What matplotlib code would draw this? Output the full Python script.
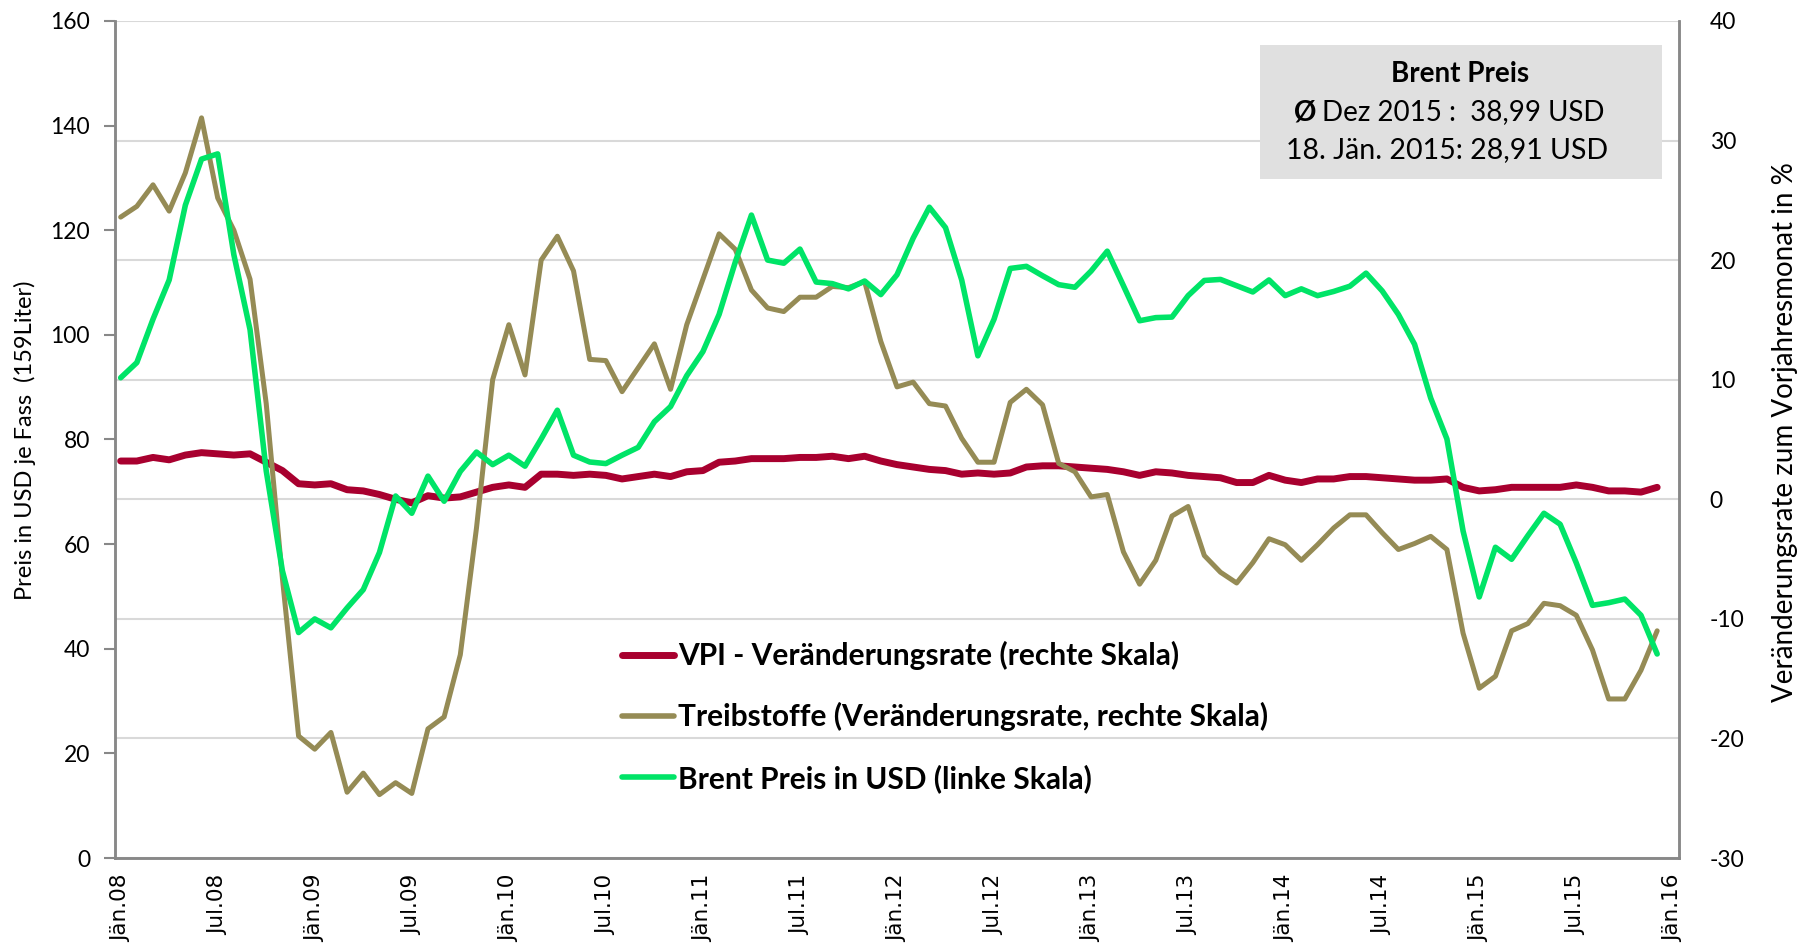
import matplotlib
matplotlib.use("Agg")
import matplotlib.pyplot as plt
from matplotlib.lines import Line2D
from matplotlib.patches import Rectangle

plt.rcParams['font.family'] = ['Lato', 'DejaVu Sans']
plt.rcParams['axes.unicode_minus'] = False

# monthly values Jän.08 .. Dez.15
brent = [91.8, 94.7, 103.0, 110.5, 124.8, 133.6, 134.6, 115.3, 101.0, 74.0, 54.9, 43.1,
         45.7, 44.0, 47.8, 51.3, 58.4, 69.2, 65.9, 73.0, 68.2, 73.9, 77.6, 75.2,
         77.0, 74.9, 80.1, 85.6, 77.0, 75.7, 75.4, 77.0, 78.5, 83.4, 86.3, 92.2,
         96.8, 103.9, 113.9, 122.9, 114.3, 113.7, 116.4, 110.1, 109.8, 108.8, 110.3, 107.7,
         111.5, 118.5, 124.4, 120.5, 110.5, 96.0, 103.0, 112.7, 113.1, 111.3, 109.6, 109.1,
         112.2, 116.0, 109.4, 102.7, 103.3, 103.4, 107.5, 110.4, 110.6, 109.4, 108.2, 110.5,
         107.5, 108.8, 107.5, 108.3, 109.3, 111.8, 108.4, 103.9, 98.2, 87.9, 80.1, 62.5,
         49.9, 59.4, 57.1, 61.6, 65.9, 63.8, 56.4, 48.3, 48.8, 49.5, 46.4, 39.0]

treibstoffe = [23.6, 24.5, 26.3, 24.1, 27.3, 31.9, 25.2, 22.5, 18.4, 8.0, -6.6, -19.8,
               -20.9, -19.5, -24.5, -22.9, -24.7, -23.7, -24.6, -19.2, -18.2, -13.0, -2.4, 10.0,
               14.6, 10.4, 20.0, 22.0, 19.1, 11.7, 11.6, 9.0, 11.0, 13.0, 9.2, 14.6,
               18.4, 22.2, 20.9, 17.5, 16.0, 15.7, 16.9, 16.9, 17.8, 17.7, 18.2, 13.2,
               9.4, 9.8, 8.0, 7.8, 5.1, 3.1, 3.1, 8.1, 9.2, 7.9, 3.0, 2.3,
               0.2, 0.4, -4.4, -7.1, -5.1, -1.4, -0.6, -4.7, -6.1, -7.0, -5.3, -3.3,
               -3.8, -5.1, -3.8, -2.4, -1.3, -1.3, -2.8, -4.2, -3.7, -3.1, -4.2, -11.2,
               -15.8, -14.8, -11.0, -10.4, -8.7, -8.9, -9.7, -12.6, -16.7, -16.7, -14.3, -11.0]

vpi = [3.2, 3.2, 3.5, 3.3, 3.7, 3.9, 3.8, 3.7, 3.8, 3.1, 2.4, 1.3,
       1.2, 1.3, 0.8, 0.7, 0.4, 0.0, -0.3, 0.3, 0.1, 0.2, 0.6, 1.0,
       1.2, 1.0, 2.1, 2.1, 2.0, 2.1, 2.0, 1.7, 1.9, 2.1, 1.9, 2.3,
       2.4, 3.1, 3.2, 3.4, 3.4, 3.4, 3.5, 3.5, 3.6, 3.4, 3.6, 3.2,
       2.9, 2.7, 2.5, 2.4, 2.1, 2.2, 2.1, 2.2, 2.7, 2.8, 2.8, 2.7,
       2.6, 2.5, 2.3, 2.0, 2.3, 2.2, 2.0, 1.9, 1.8, 1.4, 1.4, 2.0,
       1.6, 1.4, 1.7, 1.7, 1.9, 1.9, 1.8, 1.7, 1.6, 1.6, 1.7, 1.0,
       0.7, 0.8, 1.0, 1.0, 1.0, 1.0, 1.2, 1.0, 0.7, 0.7, 0.6, 1.0]

tick_labels = ["Jän.08", "Jul.08", "Jän.09", "Jul.09", "Jän.10", "Jul.10", "Jän.11",
               "Jul.11", "Jän.12", "Jul.12", "Jän.13", "Jul.13", "Jän.14", "Jul.14",
               "Jän.15", "Jul.15", "Jän.16"]

RED = '#A8002F'
TAN = '#958B55'
GREEN = '#00E467'
AXIS_GREY = '#888888'

W, H = 1807, 946
fig = plt.figure(figsize=(W / 100, H / 100), dpi=100)
ax2 = fig.add_axes([115 / W, 1 - 858 / H, (1679 - 115) / W, (858 - 21) / H])
ax1 = ax2.twinx()
ax1.set_zorder(ax2.get_zorder() + 1)
ax1.patch.set_visible(False)

x = list(range(len(brent)))
l_vpi, = ax2.plot(x, vpi, color=RED, lw=5.0, solid_capstyle='round', solid_joinstyle='round')
l_tr, = ax2.plot(x, treibstoffe, color=TAN, lw=3.6, solid_capstyle='round', solid_joinstyle='round')
l_br, = ax1.plot(x, brent, color=GREEN, lw=4.0, solid_capstyle='round', solid_joinstyle='round')

ax2.set_xlim(-0.35, 96.35)
ax2.set_ylim(-30, 40)
ax1.set_ylim(0, 160)

# ax2 (zorder below) carries the grid and the right scale
ax2.yaxis.tick_right()
ax1.yaxis.tick_left()
ax2.set_yticks(range(-30, 41, 10))
ax1.set_yticks(range(0, 161, 20))
ax2.grid(axis='y', color='#D9D9D9', lw=1.5)
ax2.set_axisbelow(True)

ax2.set_xticks(range(0, 97, 6))
ax2.set_xticklabels(tick_labels, rotation=90, fontfamily='DejaVu Sans', fontsize=15.5)
ax2.tick_params(axis='x', length=0, pad=12)
ax2.tick_params(axis='y', length=0, pad=22, labelsize=16.5, right=True, left=False,
                labelright=True, labelleft=False)
ax1.tick_params(axis='y', length=8, width=1.5, color=AXIS_GREY, pad=10, labelsize=16.5,
                left=True, right=False, labelleft=True, labelright=False)
ax1.tick_params(axis='x', bottom=False, labelbottom=False)

for a in (ax1, ax2):
    a.spines['top'].set_visible(False)
    for s in ('left', 'right', 'bottom'):
        a.spines[s].set_color(AXIS_GREY)
        a.spines[s].set_linewidth(1.8)

fig.text(25 / W, 1 - 440 / H, 'Preis in USD je Fass  (159Liter)', rotation=90,
         ha='center', va='center', fontsize=17)
fig.text(1785 / W, 1 - 432 / H, 'Veränderungsrate zum Vorjahresmonat in %', rotation=90,
         ha='center', va='center', fontsize=20)

handles = [Line2D([], [], color=RED, lw=5, solid_capstyle='round'),
           Line2D([], [], color=TAN, lw=4, solid_capstyle='round'),
           Line2D([], [], color=GREEN, lw=4, solid_capstyle='round')]
labels = ['VPI - Veränderungsrate (rechte Skala)',
          'Treibstoffe (Veränderungsrate, rechte Skala)',
          'Brent Preis in USD (linke Skala)']
ax1.legend(handles, labels, loc='upper left', bbox_to_anchor=(622 / W, 1 - 641 / H),
           bbox_transform=fig.transFigure, frameon=False, borderpad=0, borderaxespad=0,
           handlelength=1.75, handletextpad=0.12, labelspacing=1.08,
           prop={'weight': 'bold', 'size': 21.5})

# info box
fig.add_artist(Rectangle((1260 / W, 1 - 179 / H), (1662 - 1260) / W, (179 - 45) / H,
                         transform=fig.transFigure, facecolor='#E0E0E0', edgecolor='none'))
fig.text(1460 / W, 1 - 74 / H, 'Brent Preis', ha='center', va='center',
         fontsize=20, fontweight='bold')
fig.text(1316 / W, 1 - 112 / H, 'Ø', ha='right', va='center', fontsize=20, fontweight='bold')
fig.text(1322 / W, 1 - 112 / H, 'Dez 2015 :  38,99 USD', ha='left', va='center', fontsize=20)
fig.text(1447 / W, 1 - 150 / H, '18. Jän. 2015: 28,91 USD', ha='center', va='center',
         fontsize=20.5)

fig.savefig('out.png', dpi=100)
